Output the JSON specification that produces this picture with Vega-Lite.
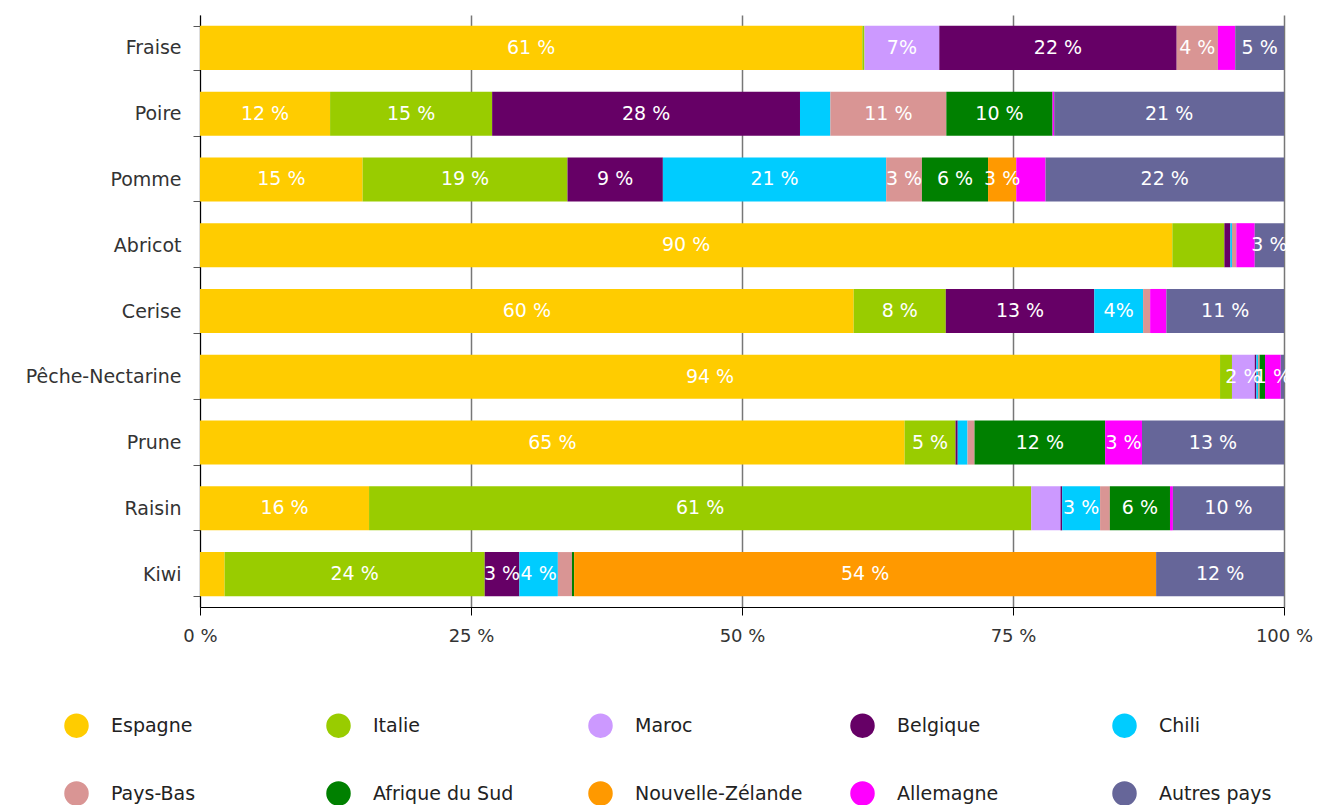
{
  "$schema": "https://vega.github.io/schema/vega-lite/v6.json",
  "width": 1084,
  "height": 592,
  "autosize": {"type": "none"},
  "padding": {"left": 200, "top": 15, "right": 34, "bottom": 198},
  "background": "white",
  "config": {"view": {"stroke": null}, "font": "DejaVu Sans"},
  "data": {
    "values": [
      {"fruit": "Fraise", "country": "Espagne", "ord": 1, "share": 61.1, "label": "61 %"},
      {"fruit": "Fraise", "country": "Italie", "ord": 2, "share": 0.2, "label": ""},
      {"fruit": "Fraise", "country": "Maroc", "ord": 3, "share": 6.9, "label": "7%"},
      {"fruit": "Fraise", "country": "Belgique", "ord": 4, "share": 21.9, "label": "22 %"},
      {"fruit": "Fraise", "country": "Pays-Bas", "ord": 6, "share": 3.8, "label": "4 %"},
      {"fruit": "Fraise", "country": "Allemagne", "ord": 9, "share": 1.6, "label": ""},
      {"fruit": "Fraise", "country": "Autres pays", "ord": 10, "share": 4.5, "label": "5 %"},

      {"fruit": "Poire", "country": "Espagne", "ord": 1, "share": 12.0, "label": "12 %"},
      {"fruit": "Poire", "country": "Italie", "ord": 2, "share": 14.95, "label": "15 %"},
      {"fruit": "Poire", "country": "Belgique", "ord": 4, "share": 28.4, "label": "28 %"},
      {"fruit": "Poire", "country": "Chili", "ord": 5, "share": 2.8, "label": ""},
      {"fruit": "Poire", "country": "Pays-Bas", "ord": 6, "share": 10.7, "label": "11 %"},
      {"fruit": "Poire", "country": "Afrique du Sud", "ord": 7, "share": 9.8, "label": "10 %"},
      {"fruit": "Poire", "country": "Allemagne", "ord": 9, "share": 0.15, "label": ""},
      {"fruit": "Poire", "country": "Autres pays", "ord": 10, "share": 21.2, "label": "21 %"},

      {"fruit": "Pomme", "country": "Espagne", "ord": 1, "share": 15.0, "label": "15 %"},
      {"fruit": "Pomme", "country": "Italie", "ord": 2, "share": 18.9, "label": "19 %"},
      {"fruit": "Pomme", "country": "Belgique", "ord": 4, "share": 8.8, "label": "9 %"},
      {"fruit": "Pomme", "country": "Chili", "ord": 5, "share": 20.6, "label": "21 %"},
      {"fruit": "Pomme", "country": "Pays-Bas", "ord": 6, "share": 3.3, "label": "3 %"},
      {"fruit": "Pomme", "country": "Afrique du Sud", "ord": 7, "share": 6.1, "label": "6 %"},
      {"fruit": "Pomme", "country": "Nouvelle-Zélande", "ord": 8, "share": 2.6, "label": "3 %"},
      {"fruit": "Pomme", "country": "Allemagne", "ord": 9, "share": 2.7, "label": ""},
      {"fruit": "Pomme", "country": "Autres pays", "ord": 10, "share": 22.0, "label": "22 %"},

      {"fruit": "Abricot", "country": "Espagne", "ord": 1, "share": 89.7, "label": "90 %"},
      {"fruit": "Abricot", "country": "Italie", "ord": 2, "share": 4.8, "label": ""},
      {"fruit": "Abricot", "country": "Belgique", "ord": 4, "share": 0.55, "label": ""},
      {"fruit": "Abricot", "country": "Chili", "ord": 5, "share": 0.15, "label": ""},
      {"fruit": "Abricot", "country": "Pays-Bas", "ord": 6, "share": 0.4, "label": ""},
      {"fruit": "Abricot", "country": "Allemagne", "ord": 9, "share": 1.7, "label": ""},
      {"fruit": "Abricot", "country": "Autres pays", "ord": 10, "share": 2.7, "label": "3 %"},

      {"fruit": "Cerise", "country": "Espagne", "ord": 1, "share": 60.3, "label": "60 %"},
      {"fruit": "Cerise", "country": "Italie", "ord": 2, "share": 8.5, "label": "8 %"},
      {"fruit": "Cerise", "country": "Belgique", "ord": 4, "share": 13.7, "label": "13 %"},
      {"fruit": "Cerise", "country": "Chili", "ord": 5, "share": 4.5, "label": "4%"},
      {"fruit": "Cerise", "country": "Pays-Bas", "ord": 6, "share": 0.65, "label": ""},
      {"fruit": "Cerise", "country": "Allemagne", "ord": 9, "share": 1.5, "label": ""},
      {"fruit": "Cerise", "country": "Autres pays", "ord": 10, "share": 10.85, "label": "11 %"},

      {"fruit": "Pêche-Nectarine", "country": "Espagne", "ord": 1, "share": 94.1, "label": "94 %"},
      {"fruit": "Pêche-Nectarine", "country": "Italie", "ord": 2, "share": 1.1, "label": ""},
      {"fruit": "Pêche-Nectarine", "country": "Maroc", "ord": 3, "share": 2.1, "label": "2 %"},
      {"fruit": "Pêche-Nectarine", "country": "Belgique", "ord": 4, "share": 0.15, "label": ""},
      {"fruit": "Pêche-Nectarine", "country": "Chili", "ord": 5, "share": 0.15, "label": ""},
      {"fruit": "Pêche-Nectarine", "country": "Pays-Bas", "ord": 6, "share": 0.15, "label": ""},
      {"fruit": "Pêche-Nectarine", "country": "Afrique du Sud", "ord": 7, "share": 0.5, "label": ""},
      {"fruit": "Pêche-Nectarine", "country": "Allemagne", "ord": 9, "share": 1.45, "label": "1 %"},
      {"fruit": "Pêche-Nectarine", "country": "Autres pays", "ord": 10, "share": 0.3, "label": ""},

      {"fruit": "Prune", "country": "Espagne", "ord": 1, "share": 65.0, "label": "65 %"},
      {"fruit": "Prune", "country": "Italie", "ord": 2, "share": 4.7, "label": "5 %"},
      {"fruit": "Prune", "country": "Belgique", "ord": 4, "share": 0.2, "label": ""},
      {"fruit": "Prune", "country": "Chili", "ord": 5, "share": 0.9, "label": ""},
      {"fruit": "Prune", "country": "Pays-Bas", "ord": 6, "share": 0.65, "label": ""},
      {"fruit": "Prune", "country": "Afrique du Sud", "ord": 7, "share": 12.05, "label": "12 %"},
      {"fruit": "Prune", "country": "Allemagne", "ord": 9, "share": 3.4, "label": "3 %"},
      {"fruit": "Prune", "country": "Autres pays", "ord": 10, "share": 13.1, "label": "13 %"},

      {"fruit": "Raisin", "country": "Espagne", "ord": 1, "share": 15.6, "label": "16 %"},
      {"fruit": "Raisin", "country": "Italie", "ord": 2, "share": 61.1, "label": "61 %"},
      {"fruit": "Raisin", "country": "Maroc", "ord": 3, "share": 2.7, "label": ""},
      {"fruit": "Raisin", "country": "Belgique", "ord": 4, "share": 0.15, "label": ""},
      {"fruit": "Raisin", "country": "Chili", "ord": 5, "share": 3.5, "label": "3 %"},
      {"fruit": "Raisin", "country": "Pays-Bas", "ord": 6, "share": 0.9, "label": ""},
      {"fruit": "Raisin", "country": "Afrique du Sud", "ord": 7, "share": 5.55, "label": "6 %"},
      {"fruit": "Raisin", "country": "Allemagne", "ord": 9, "share": 0.27, "label": ""},
      {"fruit": "Raisin", "country": "Autres pays", "ord": 10, "share": 10.25, "label": "10 %"},

      {"fruit": "Kiwi", "country": "Espagne", "ord": 1, "share": 2.27, "label": ""},
      {"fruit": "Kiwi", "country": "Italie", "ord": 2, "share": 24.0, "label": "24 %"},
      {"fruit": "Kiwi", "country": "Belgique", "ord": 4, "share": 3.2, "label": "3 %"},
      {"fruit": "Kiwi", "country": "Chili", "ord": 5, "share": 3.55, "label": "4 %"},
      {"fruit": "Kiwi", "country": "Pays-Bas", "ord": 6, "share": 1.3, "label": ""},
      {"fruit": "Kiwi", "country": "Afrique du Sud", "ord": 7, "share": 0.2, "label": ""},
      {"fruit": "Kiwi", "country": "Nouvelle-Zélande", "ord": 8, "share": 53.7, "label": "54 %"},
      {"fruit": "Kiwi", "country": "Autres pays", "ord": 10, "share": 11.8, "label": "12 %"}
    ]
  },
  "encoding": {
    "y": {
      "field": "fruit",
      "type": "nominal",
      "sort": ["Fraise", "Poire", "Pomme", "Abricot", "Cerise", "Pêche-Nectarine", "Prune", "Raisin", "Kiwi"],
      "scale": {"paddingInner": 0.33, "paddingOuter": 0.165},
      "title": null,
      "axis": {
        "tickBand": "extent",
        "tickSize": 7,
        "tickColor": "#555555",
        "domainColor": "#000000",
        "labelFontSize": 19,
        "labelColor": "#333333",
        "labelPadding": 12
      }
    }
  },
  "layer": [
    {
      "mark": {"type": "bar"},
      "encoding": {
        "x": {
          "field": "share",
          "type": "quantitative",
          "stack": "normalize",
          "scale": {"domain": [0, 1]},
          "title": null,
          "axis": {
            "values": [0, 0.25, 0.5, 0.75, 1],
            "labelExpr": "format(datum.value * 100, 'd') + ' %'",
            "grid": true,
            "gridColor": "#777777",
            "gridWidth": 1.5,
            "domainColor": "#000000",
            "tickColor": "#000000",
            "tickSize": 8,
            "labelFontSize": 18,
            "labelColor": "#333333",
            "labelPadding": 12,
            "labelFlush": false
          }
        },
        "color": {
          "field": "country",
          "type": "nominal",
          "scale": {
            "domain": ["Espagne", "Italie", "Maroc", "Belgique", "Chili", "Pays-Bas", "Afrique du Sud", "Nouvelle-Zélande", "Allemagne", "Autres pays"],
            "range": ["#FFCC00", "#99CC00", "#CC99FF", "#660066", "#00CCFF", "#D99594", "#008000", "#FF9900", "#FF00FF", "#666699"]
          },
          "legend": {
            "orient": "none",
            "legendX": -136,
            "legendY": 698,
            "direction": "horizontal",
            "columns": 5,
            "gridAlign": "all",
            "columnPadding": 47,
            "rowPadding": 43,
            "symbolType": "circle",
            "symbolSize": 600,
            "symbolStrokeWidth": 0,
            "labelFontSize": 19,
            "labelColor": "#222222",
            "labelOffset": 22,
            "labelLimit": 300,
            "title": null
          }
        },
        "order": {"field": "ord", "type": "quantitative"}
      }
    },
    {
      "mark": {"type": "text", "color": "white", "fontSize": 19, "align": "center", "baseline": "middle"},
      "encoding": {
        "x": {"field": "share", "type": "quantitative", "stack": "normalize", "bandPosition": 0.5, "title": null},
        "detail": {"field": "country", "type": "nominal"},
        "order": {"field": "ord", "type": "quantitative"},
        "text": {"field": "label", "type": "nominal"}
      }
    }
  ]
}
